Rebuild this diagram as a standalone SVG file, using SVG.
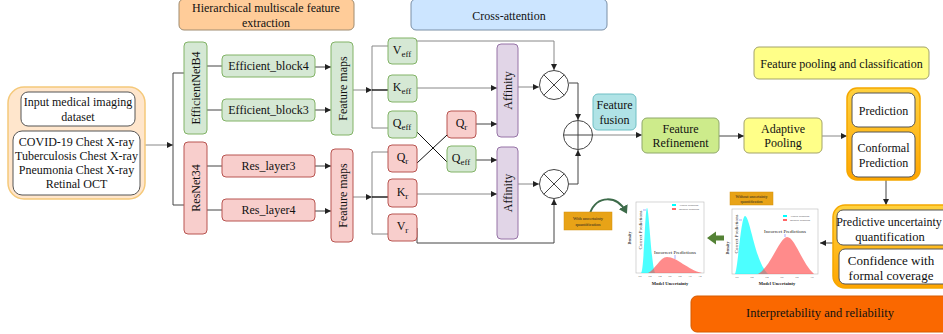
<svg xmlns="http://www.w3.org/2000/svg" width="943" height="334" viewBox="0 0 943 334">
<defs>
<style>
.t{font-family:"Liberation Serif","Times New Roman",serif;font-size:12px;fill:#111;text-anchor:middle}
.s{font-size:9px}
.ln{fill:none;stroke:#444;stroke-width:1}
.lg{fill:none;stroke:#888;stroke-width:1}
.grn{fill:#D5E8D4;stroke:#82B366;stroke-width:1}
.red{fill:#F8CECC;stroke:#B85450;stroke-width:1}
.pur{fill:#E1D5E7;stroke:#9673A6;stroke-width:1}
.wht{fill:#fff;stroke:#555;stroke-width:1}
.yel{fill:#FFFF88;stroke:#A3A36B;stroke-width:1}
.circ{fill:#fff;stroke:#444;stroke-width:1}
.ct{font-family:"Liberation Serif","Times New Roman",serif;fill:#222;text-anchor:middle}
.ax{fill:#fff;stroke:#bbb;stroke-width:0.6}
.tag{fill:#E8A317;stroke:#D1900C;stroke-width:0.5}
</style>
<marker id="ah" viewBox="0 0 6 6" refX="6" refY="3" markerWidth="6" markerHeight="6" markerUnits="userSpaceOnUse" orient="auto">
<path d="M0,0 L6,3 L0,6 Z" fill="#222"/>
</marker>
<marker id="gh" viewBox="0 0 10 10" refX="6" refY="5" markerWidth="10" markerHeight="10" markerUnits="userSpaceOnUse" orient="auto">
<path d="M0,0 L8,5 L0,10 Z" fill="#3D6B4A"/>
</marker>
<linearGradient id="og" x1="0" y1="0" x2="0" y2="1">
<stop offset="0" stop-color="#FFD23F"/>
<stop offset="1" stop-color="#FFA500"/>
</linearGradient>
</defs>

<g id="connectors">
<path class="lg" d="M145,145 H173" marker-end="url(#ah)"/>
<path class="ln" d="M184,73 H173 V205 H184"/>
<path class="ln" d="M207,66 H222 M207,110 H222 M207,166 H222 M207,210 H222"/>
<path class="ln" d="M315,67 H331" marker-end="url(#ah)"/>
<path class="ln" d="M315,110 H331" marker-end="url(#ah)"/>
<path class="ln" d="M315,166 H331" marker-end="url(#ah)"/>
<path class="ln" d="M315,211 H331" marker-end="url(#ah)"/>
<path class="lg" d="M353,90 H372" marker-end="url(#ah)"/>
<path class="lg" d="M388,46 H372 V128 H388"/>
<path class="ln" d="M372,90 H388" style="stroke:#000;stroke-width:1.3"/>
<path class="lg" d="M353,197 H372" marker-end="url(#ah)"/>
<path class="lg" d="M388,152 H372 V234 H388"/>
<path class="ln" d="M372,197 H388" style="stroke:#000;stroke-width:1.3"/>
<path class="ln" d="M417,132 L447,162 M417,163 L447,135" style="stroke:#111"/>
<path class="lg" d="M417,88 H497" marker-end="url(#ah)"/>
<path class="ln" d="M476,124 H497" marker-end="url(#ah)"/>
<path class="ln" d="M476,160 H497" marker-end="url(#ah)"/>
<path class="lg" d="M417,194 H497" marker-end="url(#ah)"/>
<path class="lg" d="M417,41 H554 V70" marker-end="url(#ah)"/>
<path class="lg" d="M518,87 H539" marker-end="url(#ah)"/>
<path class="lg" d="M518,184 H539" marker-end="url(#ah)"/>
<path class="ln" d="M417,228 V243 H554 V199" marker-end="url(#ah)"/>
<path class="ln" d="M569,83 H578 V120" marker-end="url(#ah)"/>
<path class="ln" d="M569,184 H578 V150" marker-end="url(#ah)"/>
<path class="lg" d="M593,135 H642" marker-end="url(#ah)"/>
<path class="ln" d="M719,136 H744" marker-end="url(#ah)"/>
<path class="lg" d="M822,136 H847" marker-end="url(#ah)"/>
<path class="ln" d="M886,180 V205" marker-end="url(#ah)"/>
<path class="ln" d="M833,243 H820" marker-end="url(#ah)"/>
<path d="M590,213 C597,195 617,195 626,212" fill="none" stroke="#3D6B4A" stroke-width="2" marker-end="url(#gh)"/>
<path d="M707,238 L716,231.5 L716,235.5 L724,235.5 L724,240.5 L716,240.5 L716,244.5 Z" fill="#548235"/>
</g>

<g id="title-extraction">
<rect x="179" y="-1" width="175" height="31" rx="5" fill="#FFCC99" stroke="#A08C70"/>
<text class="t" x="266" y="12">Hierarchical multiscale feature</text>
<text class="t" x="266" y="27">extraction</text>
</g>
<g id="title-cross">
<rect x="411" y="-1" width="196" height="31" rx="5" fill="#CCE5FF" stroke="#7A8FA6"/>
<text class="t" x="509" y="20">Cross-attention</text>
</g>

<g id="input">
<rect x="8" y="87" width="137" height="112" rx="16" fill="#FFE6CC" stroke="#F5C97A" stroke-width="1.5"/>
<rect class="wht" x="21" y="92" width="114" height="34" rx="7"/>
<text class="t" x="78" y="106">Input medical imaging</text>
<text class="t" x="78" y="121">dataset</text>
<rect class="wht" x="13" y="131" width="127" height="64" rx="9"/>
<text class="t" x="76.5" y="146">COVID-19 Chest X-ray</text>
<text class="t" x="76.5" y="160">Tuberculosis Chest X-ray</text>
<text class="t" x="76.5" y="174">Pneumonia Chest X-ray</text>
<text class="t" x="76.5" y="188">Retinal OCT</text>
</g>

<g id="efficientnet">
<rect class="grn" x="184" y="42" width="23" height="92" rx="4"/>
<text class="t" transform="translate(199.5,88) rotate(-90)">EfficientNetB4</text>
</g>
<g id="resnet">
<rect class="red" x="184" y="142" width="23" height="92" rx="4"/>
<text class="t" transform="translate(199.5,188) rotate(-90)">ResNet34</text>
</g>

<g id="eff-block4"><rect class="grn" x="222" y="55" width="93" height="22" rx="4"/><text class="t" x="268.5" y="70">Efficient_block4</text></g>
<g id="eff-block3"><rect class="grn" x="222" y="99" width="93" height="22" rx="4"/><text class="t" x="268.5" y="114">Efficient_block3</text></g>
<g id="res-layer3"><rect class="red" x="222" y="155" width="93" height="22" rx="4"/><text class="t" x="268.5" y="170">Res_layer3</text></g>
<g id="res-layer4"><rect class="red" x="222" y="199" width="93" height="22" rx="4"/><text class="t" x="268.5" y="214">Res_layer4</text></g>

<g id="fmaps-eff">
<rect class="grn" x="331" y="42" width="22" height="93" rx="4"/>
<text class="t" transform="translate(346.5,88.5) rotate(-90)">Feature maps</text>
</g>
<g id="fmaps-res">
<rect class="red" x="331" y="149" width="22" height="93" rx="4"/>
<text class="t" transform="translate(346.5,195.5) rotate(-90)">Feature maps</text>
</g>

<g id="v-eff"><rect class="grn" x="388" y="38" width="29" height="26" rx="4"/><text class="t" x="402" y="54">V<tspan class="s" dy="3">eff</tspan></text></g>
<g id="k-eff"><rect class="grn" x="388" y="75" width="29" height="27" rx="4"/><text class="t" x="402" y="91">K<tspan class="s" dy="3">eff</tspan></text></g>
<g id="q-eff"><rect class="grn" x="388" y="111" width="29" height="27" rx="4"/><text class="t" x="402" y="127">Q<tspan class="s" dy="3">eff</tspan></text></g>
<g id="q-r"><rect class="red" x="388" y="145" width="29" height="27" rx="4"/><text class="t" x="402.5" y="161">Q<tspan class="s" dy="3">r</tspan></text></g>
<g id="k-r"><rect class="red" x="388" y="179" width="29" height="28" rx="4"/><text class="t" x="402.5" y="196">K<tspan class="s" dy="3">r</tspan></text></g>
<g id="v-r"><rect class="red" x="388" y="214" width="29" height="27" rx="4"/><text class="t" x="402.5" y="230">V<tspan class="s" dy="3">r</tspan></text></g>
<g id="q-r2"><rect class="red" x="447" y="111" width="29" height="27" rx="4"/><text class="t" x="461.5" y="127">Q<tspan class="s" dy="3">r</tspan></text></g>
<g id="q-eff2"><rect class="grn" x="447" y="146" width="29" height="26" rx="4"/><text class="t" x="461" y="162">Q<tspan class="s" dy="3">eff</tspan></text></g>

<g id="affinity-top">
<rect class="pur" x="497" y="44" width="21" height="93" rx="4"/>
<text class="t" transform="translate(511.5,90.5) rotate(-90)">Affinity</text>
</g>
<g id="affinity-bottom">
<rect class="pur" x="497" y="147" width="21" height="92" rx="4"/>
<text class="t" transform="translate(511.5,193) rotate(-90)">Affinity</text>
</g>

<g id="mult-top">
<circle class="circ" cx="554" cy="85" r="14.5"/>
<path class="ln" d="M543.7,74.7 L564.3,95.3 M564.3,74.7 L543.7,95.3"/>
</g>
<g id="mult-bottom">
<circle class="circ" cx="554" cy="184" r="14.5"/>
<path class="ln" d="M543.7,173.7 L564.3,194.3 M564.3,173.7 L543.7,194.3"/>
</g>
<g id="add">
<circle class="circ" cx="578" cy="135" r="14.5"/>
<path class="ln" d="M563.5,135 H592.5 M578,120.5 V149.5"/>
</g>

<g id="feature-fusion">
<rect x="593" y="94" width="43" height="36" rx="5" fill="#B0E3E6" stroke="#6FBFC4"/>
<text class="t" x="614.5" y="109">Feature</text>
<text class="t" x="614.5" y="124">fusion</text>
</g>
<g id="feature-refinement">
<rect x="642" y="118" width="77" height="35" rx="5" fill="#CDEB8B" stroke="#8FA86A"/>
<text class="t" x="680.5" y="133">Feature</text>
<text class="t" x="680.5" y="147">Refinement</text>
</g>
<g id="adaptive-pooling">
<rect class="yel" x="744" y="118" width="78" height="35" rx="5"/>
<text class="t" x="783" y="133">Adaptive</text>
<text class="t" x="783" y="147">Pooling</text>
</g>
<g id="title-pooling">
<rect class="yel" x="754" y="47" width="175" height="32" rx="5"/>
<text class="t" x="841.5" y="68">Feature pooling and classification</text>
</g>

<g id="prediction-group">
<rect x="847" y="88" width="73" height="92" rx="10" fill="url(#og)" stroke="#F5A800" stroke-width="1.5"/>
<rect class="wht" x="852" y="93" width="63" height="34" rx="6"/>
<text class="t" x="883.5" y="115">Prediction</text>
<rect class="wht" x="852" y="132" width="63" height="45" rx="6"/>
<text class="t" x="883.5" y="152">Conformal</text>
<text class="t" x="883.5" y="167">Prediction</text>
</g>

<g id="uncertainty-group">
<rect x="833" y="205" width="122" height="83" rx="12" fill="url(#og)" stroke="#F5A800" stroke-width="1.5"/>
<rect class="wht" x="837" y="210" width="112" height="35" rx="6"/>
<text class="t" x="889" y="226">Predictive uncertainty</text>
<text class="t" x="890" y="241" style="font-size:12.5px">quantification</text>
<rect class="wht" x="839" y="249" width="110" height="35" rx="6"/>
<text class="t" x="891" y="265" style="font-size:13px">Confidence with</text>
<text class="t" x="891" y="280" style="font-size:13px">formal coverage</text>
</g>

<g id="interpretability">
<rect x="691" y="296" width="262" height="36" rx="6" fill="#FA6800" stroke="#D65A00"/>
<text class="t" x="820" y="317" style="font-size:12.5px">Interpretability and reliability</text>
</g>

<g id="chart-with">
<rect class="tag" x="564" y="212" width="48" height="18"/>
<text class="ct" x="588" y="220" style="font-size:4.5px">With uncertainty</text>
<text class="ct" x="588" y="226" style="font-size:4.5px">quantification</text>
<rect class="ax" x="636" y="202" width="68" height="71"/>
<path d="M641,273 C644,272 645,208 647,208 C649,208 651,262 655,273 Z" fill="#00FFFF" fill-opacity="0.7"/>
<path d="M648,273 C655,270 660,257 667,257 C677,257 688,270 702,273 Z" fill="#FF4D4D" fill-opacity="0.65"/>
<rect x="672" y="204" width="4" height="2" fill="#00FFFF"/>
<rect x="672" y="208" width="4" height="2" fill="#FF6666"/>
<text class="ct" x="689" y="206" style="font-size:2.5px">Correct Prediction</text>
<text class="ct" x="689" y="210" style="font-size:2.5px">Incorrect Prediction</text>
<text class="ct" transform="translate(642,230) rotate(-90)" style="font-size:5px">Correct Predictions</text>
<text class="ct" x="675" y="254" style="font-size:5px">Incorrect Predictions</text>
<path d="M643,210 H646 M675,255 V259" stroke="#55f" stroke-width="0.5" fill="none"/>
<text class="ct" transform="translate(631,238) rotate(-90)" style="font-size:4px;font-weight:bold">Density</text>
<text class="ct" x="670" y="285" style="font-size:4.5px;font-weight:bold">Model Uncertainty</text>
<g class="ct" style="font-size:2.5px">
<text x="640" y="277">0.0</text><text x="650" y="277">0.2</text><text x="660" y="277">0.4</text><text x="670" y="277">0.6</text><text x="680" y="277">0.8</text><text x="690" y="277">1.0</text><text x="700" y="277">1.2</text>
</g>
</g>

<g id="chart-without">
<rect class="tag" x="730" y="192" width="43" height="13"/>
<text class="ct" x="751.5" y="198" style="font-size:4px">Without uncertainty</text>
<text class="ct" x="751.5" y="203" style="font-size:4px">quantification</text>
<rect class="ax" x="732" y="209" width="86" height="65"/>
<path d="M735,274 C738,268 741,216 745,216 C750,216 755,262 768,274 Z" fill="#00FFFF" fill-opacity="0.7"/>
<path d="M758,274 C770,268 780,237 787,237 C795,237 801,262 814,274 Z" fill="#FF4D4D" fill-opacity="0.65"/>
<rect x="783" y="215" width="4" height="2" fill="#00FFFF"/>
<rect x="783" y="219" width="4" height="2" fill="#FF6666"/>
<text class="ct" x="800" y="217" style="font-size:2.5px">Correct Prediction</text>
<text class="ct" x="800" y="221" style="font-size:2.5px">Incorrect Prediction</text>
<text class="ct" transform="translate(738,234) rotate(-90)" style="font-size:5px">Correct Predictions</text>
<text class="ct" x="785" y="233" style="font-size:5px">Incorrect Predictions</text>
<path d="M739,220 H742 M785,234 V237" stroke="#55f" stroke-width="0.5" fill="none"/>
<text class="ct" transform="translate(729,248) rotate(-90)" style="font-size:4px;font-weight:bold">Density</text>
<text class="ct" x="777" y="285" style="font-size:4.5px;font-weight:bold">Model Uncertainty</text>
<g class="ct" style="font-size:2.5px">
<text x="737" y="278">0.0</text><text x="752" y="278">0.2</text><text x="767" y="278">0.4</text><text x="782" y="278">0.6</text><text x="797" y="278">0.8</text><text x="812" y="278">1.0</text>
</g>
</g>
</svg>
